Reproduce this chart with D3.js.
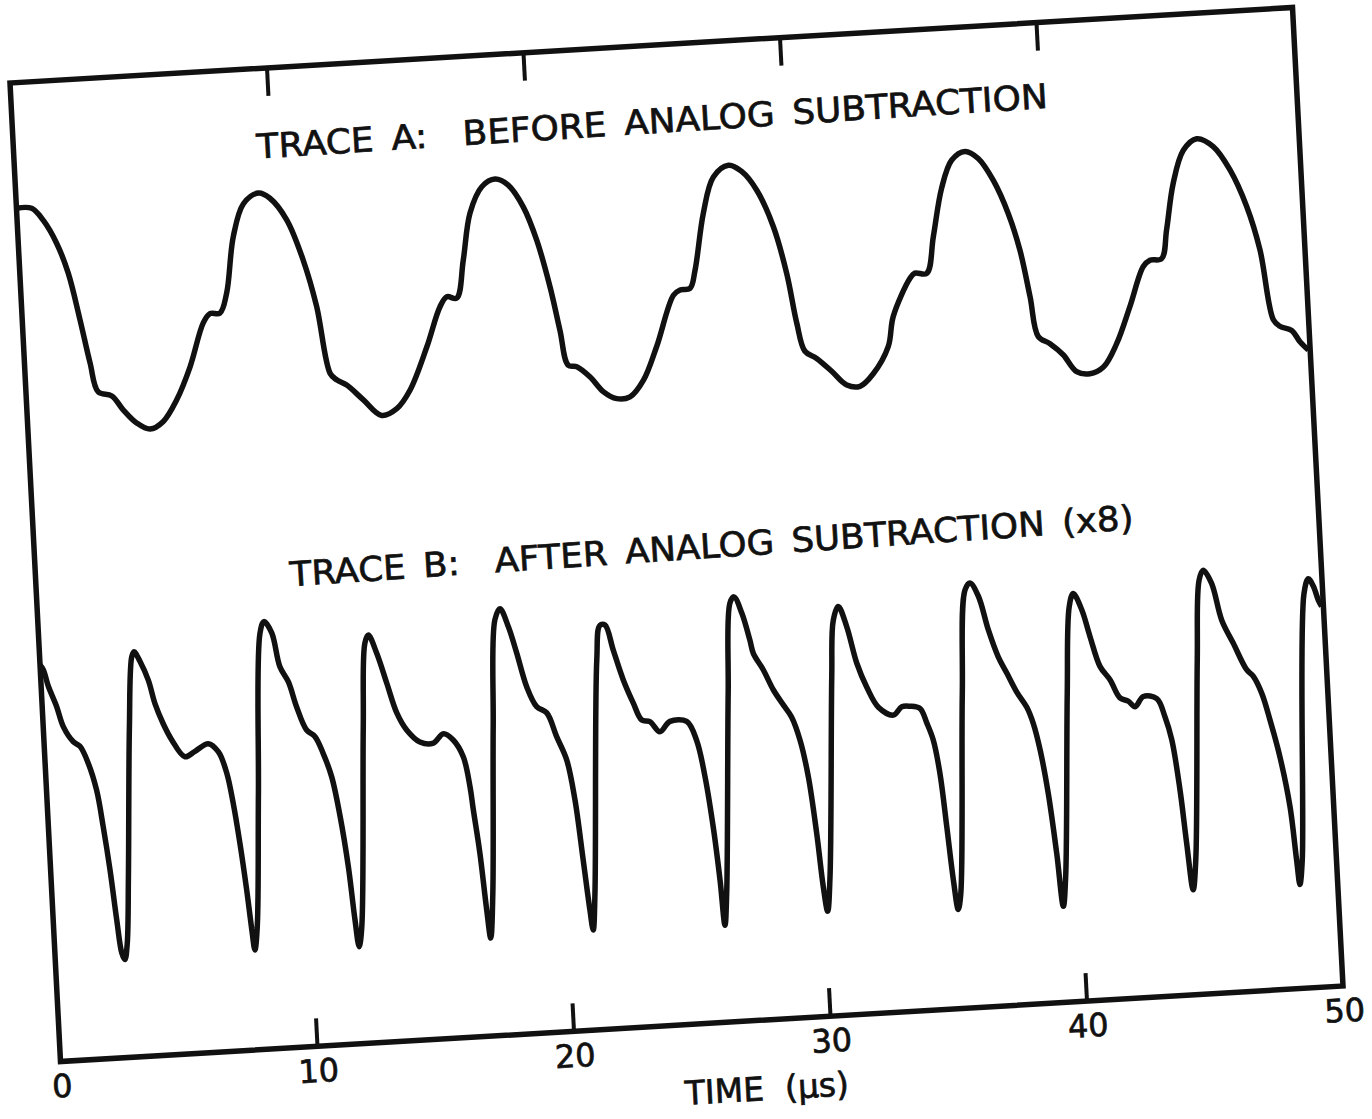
<!DOCTYPE html>
<html>
<head>
<meta charset="utf-8">
<script src="https://cdn.jsdelivr.net/npm/d3@7"></script>
<style>
  body { margin: 0; background: #fff; }
  svg text { font-family: "DejaVu Sans", "Liberation Sans", sans-serif; fill: #111; stroke: #111; stroke-width: 0.7px; }
</style>
</head>
<body>
<div id="chart"></div>
<script>
// Trace A: before analog subtraction (time in us, vertical position in % of frame height)
var timeA = [0,0.59,1.02,1.49,1.88,2.25,2.55,2.81,3.33,3.75,4.24,4.75,5.28,5.84,6.43,7.03,7.31,7.70,8.00,8.37,
  8.83,9.43,9.87,10.48,11.04,11.47,11.86,12.10,12.48,13.10,13.78,14.38,14.93,15.67,16.26,16.55,16.93,17.26,17.62,18.13,
  18.66,19.16,19.70,20.16,20.58,20.88,21.13,21.46,21.95,22.44,22.95,23.47,24.02,24.61,25.36,25.63,26.02,26.25,26.69,27.15,
  27.76,28.26,28.81,29.38,29.81,30.10,30.36,30.80,31.36,31.92,32.43,32.97,33.61,33.86,34.59,34.79,35.25,35.58,36.00,36.45,
  36.98,37.48,38.02,38.54,38.92,39.22,39.46,39.90,40.39,40.88,41.39,41.93,42.49,43.08,43.68,43.95,44.41,44.66,45.01,45.47,
  46.01,46.64,47.25,47.82,48.25,48.63,48.87,49.32,49.62,49.93];
var traceA = [87.2,87.1,85.8,83.4,80.3,75.4,71.0,68.0,67.5,66.0,64.6,63.9,64.6,66.7,70.0,74.4,75.3,75.3,77.3,83.0,
  86.3,87.3,86.7,84.4,80.2,75.4,68.5,67.8,67.2,65.6,63.9,64.5,66.3,70.6,74.6,75.6,75.4,79.2,84.0,86.6,
  87.3,86.6,84.3,80.8,76.0,71.5,67.9,67.7,66.6,65.0,64.2,64.3,65.9,69.3,74.4,74.9,75.0,76.8,82.6,86.2,
  87.3,86.6,84.6,80.8,75.9,70.8,67.9,67.1,65.7,64.2,64.0,65.2,67.9,70.9,74.7,75.2,75.1,78.8,83.7,86.5,
  87.3,86.5,84.2,80.7,76.9,72.1,68.0,67.2,66.0,64.2,63.9,64.5,66.8,70.5,74.5,75.1,75.2,78.1,82.8,86.1,
  87.2,86.3,83.8,80.0,75.5,68.3,67.6,67.1,65.9,65.0];

// Trace B: after analog subtraction (x8)
var timeB = [0,0.12,0.28,0.56,0.78,1.14,1.39,1.68,1.95,2.13,2.31,2.47,2.60,2.71,2.83,3.01,3.35,3.58,3.68,3.89,
  4.18,4.39,4.67,4.97,5.45,5.85,6.38,6.76,7.04,7.23,7.41,7.58,7.70,7.78,7.92,8.23,8.61,8.79,9.07,9.32,
  9.62,9.89,10.23,10.54,10.83,11.11,11.36,11.58,11.73,11.84,11.98,12.44,12.67,12.82,13.11,13.44,13.77,14.12,14.61,15.13,
  15.54,15.91,16.27,16.47,16.55,16.72,16.87,16.97,17.14,17.49,17.77,17.99,18.28,18.55,18.87,19.22,19.60,19.94,20.28,20.52,
  20.72,20.88,20.97,21.11,21.65,21.84,22.04,22.31,22.64,22.98,23.28,23.59,23.96,24.37,25.02,25.37,25.62,25.84,26.00,26.10,
  26.23,26.69,26.94,27.11,27.38,27.64,27.75,28.10,28.45,28.81,29.11,29.39,29.64,29.85,30.00,30.12,30.28,30.75,30.92,31.14,
  31.43,31.75,32.09,32.50,33.07,33.41,33.73,34.12,34.35,34.57,34.76,34.92,35.07,35.20,35.33,35.79,36.10,36.31,36.61,36.93,
  37.26,37.56,37.91,38.27,38.49,38.70,38.93,39.14,39.29,39.44,39.87,40.12,40.30,40.60,40.87,41.20,41.56,41.91,42.23,42.48,
  42.82,43.34,43.62,43.84,44.06,44.21,44.37,44.53,44.99,45.22,45.40,45.70,46.02,46.42,46.89,47.13,47.43,47.70,48.01,48.30,
  48.45,48.53,48.67,49.27,49.47,49.65,49.81,49.93];
var traceB = [40.5,40.0,38.3,36.2,34.1,32.5,32.0,30.2,27.4,23.7,19.2,14.1,10.7,10.0,11.6,18.4,33.7,40.8,41.3,40.3,
  38.3,35.9,33.8,32.1,30.3,30.8,31.5,30.6,28.4,25.3,21.2,16.4,12.3,10.2,12.6,26.1,42.4,43.6,42.4,38.9,
  37.3,34.7,32.3,31.6,29.8,27.4,23.3,18.1,12.7,9.9,11.9,32.3,40.8,41.6,39.7,36.6,33.5,31.7,30.4,30.2,
  31.1,30.4,28.6,25.5,23.2,18.7,12.9,10.0,14.5,31.5,42.4,43.5,41.6,38.9,35.4,33.3,32.6,30.1,27.7,23.6,
  17.4,12.3,10.2,13.9,37.7,41.2,41.2,38.6,35.5,33.1,31.3,31.1,30.0,31.0,30.9,28.9,25.2,20.0,14.5,9.9,
  13.1,33.5,42.7,43.3,41.6,38.8,37.4,35.7,33.6,32.0,30.7,28.3,24.5,18.7,13.2,10.7,14.2,34.6,40.3,41.7,
  39.6,35.8,33.3,31.2,30.3,31.1,31.1,30.8,29.3,27.5,24.1,18.6,13.1,10.1,11.7,32.1,42.6,43.3,41.9,38.4,
  35.6,33.9,31.9,30.3,28.6,25.9,21.4,15.2,9.8,12.8,31.5,40.3,41.6,39.9,37.1,34.0,32.6,30.7,30.3,29.7,
  30.7,30.4,28.5,26.1,20.9,15.5,10.7,13.7,34.1,42.2,43.2,41.8,38.0,35.6,32.8,32.1,30.3,27.5,23.7,18.6,
  13.1,10.6,13.1,40.2,41.7,40.9,39.5,38.8];

var tickLabels = [0, 10, 20, 30, 40, 50];
var innerTicks = [10, 20, 30, 40];

// Plot frame (the scanned figure is tilted a bit, so the frame sits in a skewed group)
var width = 1284, height = 980;

var svg = d3.select("#chart")
    .append("svg")
    .attr("width", 1372)
    .attr("height", 1119)
    .style("background", "#fff");

var g = svg.append("g")
    .attr("transform", "matrix(0.99883,-0.0588,0.05153,0.99847,10,83)");

var x = d3.scaleLinear().domain([0, 50]).range([0, width]);
var y = d3.scaleLinear().domain([0, 100]).range([height, 0]);

// bottom axis, ticks pointing in
var xAxis = g.append("g")
    .attr("transform", "translate(0," + height + ")")
    .call(d3.axisBottom(x).tickValues(tickLabels).tickSizeInner(-28).tickSizeOuter(0).tickPadding(13));
xAxis.select(".domain").remove();
xAxis.selectAll(".tick line")
    .attr("stroke", "#111")
    .attr("stroke-width", 4)
    .filter(function (d) { return d === 0 || d === 50; }).remove();
xAxis.selectAll(".tick text")
    .attr("font-size", 32)
    .style("font-family", "DejaVu Sans, sans-serif")
    .attr("fill", "#111");

// top axis, ticks only
var topAxis = g.append("g")
    .call(d3.axisTop(x).tickValues(innerTicks).tickSizeInner(-28).tickSizeOuter(0).tickFormat(""));
topAxis.select(".domain").remove();
topAxis.selectAll(".tick line").attr("stroke", "#111").attr("stroke-width", 4);

// frame
g.append("rect")
    .attr("x", 0).attr("y", 0)
    .attr("width", width).attr("height", height)
    .attr("fill", "none")
    .attr("stroke", "#111")
    .attr("stroke-width", 5.5);

// traces
var line = d3.line()
    .x(function (d) { return x(d[0]); })
    .y(function (d) { return y(d[1]); })
    .curve(d3.curveCatmullRom.alpha(0.5));

g.append("path")
    .datum(d3.zip(timeA, traceA))
    .attr("fill", "none")
    .attr("stroke", "#111")
    .attr("stroke-width", 5.5)
    .attr("stroke-linejoin", "round")
    .attr("d", line);

g.append("path")
    .datum(d3.zip(timeB, traceB))
    .attr("fill", "none")
    .attr("stroke", "#111")
    .attr("stroke-width", 5.5)
    .attr("stroke-linejoin", "round")
    .attr("d", line);

// labels
g.append("text")
    .attr("transform", "translate(243,90) rotate(-0.3)")
    .attr("font-size", 34)
    .attr("textLength", 792)
    .attr("lengthAdjust", "spacingAndGlyphs")
    .style("white-space", "pre")
    .style("word-spacing", "6px")
    .text("TRACE A:  BEFORE ANALOG SUBTRACTION");

g.append("text")
    .attr("transform", "translate(254,519) rotate(-0.5)")
    .attr("font-size", 34)
    .attr("textLength", 845)
    .attr("lengthAdjust", "spacingAndGlyphs")
    .style("white-space", "pre")
    .style("word-spacing", "6px")
    .text("TRACE B:  AFTER ANALOG SUBTRACTION (x8)");

g.append("text")
    .attr("x", x(27.4))
    .attr("y", height + 80)
    .attr("text-anchor", "middle")
    .attr("font-size", 33)
    .style("white-space", "pre")
    .text("TIME  (μs)");
</script>
</body>
</html>
